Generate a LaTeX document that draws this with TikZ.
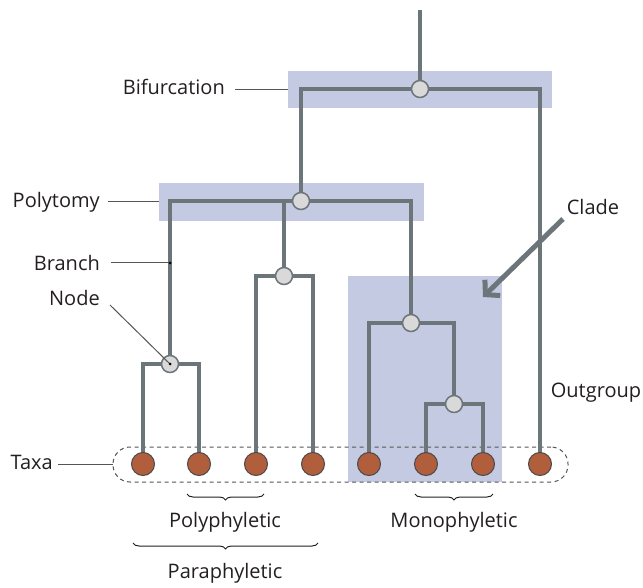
\documentclass[tikz,border=0pt]{standalone}
\usepackage{fontspec}
\setmainfont{Open Sans}
\usetikzlibrary{arrows.meta,decorations.pathreplacing}
\pgfdeclarelayer{bg}\pgfdeclarelayer{mid}
\pgfsetlayers{bg,mid,main}
\definecolor{boxc}{HTML}{C5CAE3}
\definecolor{treec}{HTML}{6C757A}
\definecolor{nodef}{HTML}{D9D9D9}
\definecolor{taxf}{HTML}{B05E3C}
\definecolor{taxd}{HTML}{4A4A4A}
\definecolor{txtc}{HTML}{231F20}
\definecolor{leadc}{HTML}{555555}
\tikzset{
  hbox/.style={fill=boxc, draw=none, inner sep=0, rectangle},
  inode/.style={circle, minimum size=17pt, inner sep=0, fill=nodef, draw=treec, line width=1.5pt},
  taxon/.style={circle, minimum size=23pt, inner sep=0, fill=taxf, draw=taxd, line width=1pt},
  branchline/.style={draw=treec, line width=4pt, line join=miter},
  lbl/.style={font=\fontsize{20}{24}\selectfont, text=txtc, inner sep=0},
  leader/.style={draw=leadc, line width=1pt},
  bracestyle/.style={draw=txtc, line width=1pt, decorate, decoration={brace, mirror, amplitude=6pt}},
}
\begin{document}
\begin{tikzpicture}[x=1pt,y=-1pt]
\useasboundingbox (0,0) rectangle (643,588);
% boxes
\begin{pgfonlayer}{bg}
\node[hbox, minimum width=264pt, minimum height=37pt] (bbox) at (420,89.5) {};
\node[hbox, minimum width=265pt, minimum height=38pt] (pbox) at (291.5,202) {};
\node[hbox, minimum width=154pt, minimum height=206pt] (cbox) at (425,379) {};
\node[draw=leadc, line width=1pt, dash pattern=on 4pt off 3.5pt, rounded corners=17pt,
      minimum width=455pt, minimum height=35pt, inner sep=0] (taxa) at (340.5,464.5) {};
\end{pgfonlayer}
% internal nodes
\node[inode] (n1) at (420,89) {};
\node[inode] (n2) at (301,201) {};
\node[inode] (n3) at (170,364) {};
\node[inode] (n4) at (284,276) {};
\node[inode] (n5) at (411,323) {};
\node[inode] (n6) at (454,404) {};
\coordinate (root) at (420,10);
% taxa
\foreach \i/\x in {1/143,2/199,3/256,4/313,5/369,6/426,7/483,8/540}
  \node[taxon] (t\i) at (\x,464) {};
% branches
\begin{pgfonlayer}{mid}
\draw[branchline] (root) -- (n1.center);
\draw[branchline] (n1.center) -| (n2.center);
\draw[branchline] (n1.center) -| (t8.center);
\draw[branchline] (n2.center) -| (n3.center);
\draw[branchline] (n2.center) -| (n4.center);
\draw[branchline] (n2.center) -| (n5.center);
\draw[branchline] (n3.center) -| (t1.center);
\draw[branchline] (n3.center) -| (t2.center);
\draw[branchline] (n4.center) -| (t3.center);
\draw[branchline] (n4.center) -| (t4.center);
\draw[branchline] (n5.center) -| (t5.center);
\draw[branchline] (n5.center) -| (n6.center);
\draw[branchline] (n6.center) -| (t6.center);
\draw[branchline] (n6.center) -| (t7.center);
\end{pgfonlayer}
% clade arrow
\node[lbl] (clade) at (593,207) {Clade};
\coordinate (cstart) at (563,219);
\coordinate (ctip) at (483,297);
\draw[draw=treec, line width=5pt, -{Straight Barb[length=10pt, width=22pt, line join=miter]}] (cstart) -- (ctip);
\node[lbl] (outg) at (596,393) {Outgroup};
% left labels
\node[lbl, anchor=east] (lbif) at (225,87) {Bifurcation};
\draw[leader] ([xshift=10pt]lbif.east |- bbox.west) -- (bbox.west);
\node[lbl, anchor=east] (lpol) at (100,202) {Polytomy};
\draw[leader] ([xshift=8pt]lpol.east |- pbox.west) -- (pbox.west);
\node[lbl, anchor=east] (lbr) at (100,263) {Branch};
\coordinate (brpt) at (170,263);
\draw[leader] ([xshift=11pt]lbr.east |- brpt) -- (brpt);
\fill[black] (brpt) circle (1.5pt);
\node[lbl, anchor=east] (lnode) at (100,298) {Node};
\draw[leader] ([xshift=10pt,yshift=-7pt]lnode.east) -- (n3.center);
\fill[black] (n3.center) circle (1.5pt);
\node[lbl, anchor=east] (ltax) at (53,462) {Taxa};
\draw[leader] ([xshift=5pt]ltax.east |- taxa.west) -- (taxa.west);
% braces
\coordinate (pa) at (187,494); \coordinate (pb) at (264,494);
\draw[bracestyle] (pa) -- (pb);
\node[lbl] (lpoly) at (225,522) {Polyphyletic};
\coordinate (qa) at (133,543); \coordinate (qb) at (318,543);
\draw[bracestyle] (qa) -- (qb);
\node[lbl] (lpara) at (225,573) {Paraphyletic};
\coordinate (ma) at (415,494); \coordinate (mb) at (493,494);
\draw[bracestyle] (ma) -- (mb);
\node[lbl] (lmono) at (454,522) {Monophyletic};
\end{tikzpicture}
\end{document}
